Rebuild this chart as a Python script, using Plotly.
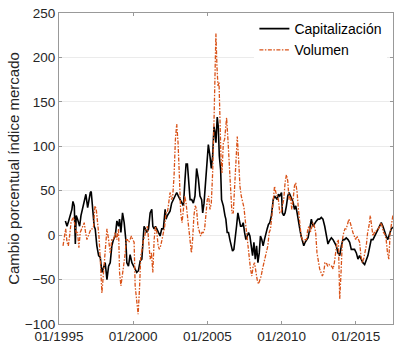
import plotly.graph_objects as go

# Años transcurridos desde 01/1995 (eje temporal) y valores (%)
cap_t = [0.43, 0.54, 0.65, 0.76, 0.87, 0.94, 1.03, 1.10, 1.16, 1.25, 1.39, 1.48, 1.61, 1.72, 1.81, 1.93,
         2.02, 2.11, 2.17, 2.28, 2.37, 2.44, 2.55, 2.67, 2.78, 2.89, 3.00, 3.11, 3.23, 3.34, 3.45, 3.56,
         3.67, 3.79, 3.90, 4.01, 4.08, 4.17, 4.28, 4.39, 4.50, 4.57, 4.68, 4.79, 4.91, 5.02, 5.13, 5.24,
         5.35, 5.47, 5.58, 5.64, 5.73, 5.82, 5.91, 6.03, 6.14, 6.25, 6.32, 6.41, 6.50, 6.59, 6.70, 6.81,
         6.92, 7.03, 7.15, 7.21, 7.30, 7.39, 7.48, 7.59, 7.71, 7.82, 7.93, 8.04, 8.15, 8.27, 8.38, 8.49,
         8.56, 8.65, 8.74, 8.83, 8.94, 9.05, 9.16, 9.27, 9.39, 9.50, 9.61, 9.68, 9.77, 9.83, 9.95, 10.06,
         10.17, 10.26, 10.35, 10.44, 10.51, 10.57, 10.66, 10.73, 10.80, 10.89, 10.95, 11.07, 11.18, 11.24,
         11.33, 11.42, 11.51, 11.60, 11.69, 11.78, 11.87, 11.96, 12.05, 12.14, 12.23, 12.32, 12.41, 12.50,
         12.59, 12.68, 12.77, 12.86, 12.95, 13.04, 13.13, 13.22, 13.31, 13.40, 13.49, 13.57, 13.66, 13.75,
         13.84, 13.93, 14.02, 14.11, 14.20, 14.31, 14.43, 14.52, 14.61, 14.70, 14.78, 14.87, 14.99, 15.05,
         15.14, 15.23, 15.32, 15.41, 15.50, 15.59, 15.68, 15.77, 15.86, 15.95, 16.04, 16.13, 16.22, 16.31,
         16.40, 16.49, 16.58, 16.67, 16.78, 16.89, 17.00, 17.11, 17.23, 17.34, 17.45, 17.56, 17.67, 17.78,
         17.90, 18.01, 18.12, 18.23, 18.35, 18.46, 18.57, 18.68, 18.79, 18.91, 19.02, 19.13, 19.24, 19.35,
         19.47, 19.58, 19.69, 19.80, 19.91, 20.03, 20.14, 20.25, 20.36, 20.47, 20.59, 20.70, 20.81, 20.92,
         21.03, 21.15, 21.26, 21.37, 21.48, 21.59, 21.71, 21.82, 21.93, 22.04, 22.15, 22.27, 22.38, 22.49]
capitalizacion = [16, 10, 16, 22, 29, 38, 33, -10, 22, 18, 10, 22, 33, 40, 46, 31,
                  40, 48, 49, 25, 10, 7, -12, -23, -25, -42, -35, -31, -50, -35, -31, -12,
                  -5, -1, 16, 10, 18, 3, 25, 14, -5, -31, -35, -22, -31, -35, -40, -42,
                  -40, -29, -27, -5, 10, 7, 3, 7, 25, 29, 10, 7, 10, 7, 3, -1,
                  7, 7, 29, 18, 22, 25, 27, 36, 40, 44, 48, 44, 40, 36, 33, 63,
                  80, 80, 55, 40, 40, 36, 44, 75, 63, 44, 40, 25, 36, 48, 70, 102,
                  89, 75, 89, 122, 115, 104, 133, 122, 89, 73, 40, 33, 22, 18,
                  3, 3, -5, -14, -18, -16, -5, 10, 25, 18, 10, 10, 14, 3,
                  -5, -1, 3, -1, -12, -23, -8, -27, -12, -31, -20, -1, -5, -12,
                  -5, 3, 7, 12, 14, 22, 40, 44, 42, 40, 46, 44, 48, 25,
                  22, 25, 33, 44, 48, 44, 40, 37, 29, 33, 25, 18, 7, -1,
                  -8, -12, -8, -5, -3, 7, 18, 10, 14, 16, 18, 18, 20, 18,
                  10, -1, -10, -6, -3, -5, -8, -12, -20, -23, -12, -5, -5, -3,
                  -5, -8, -16, -16, -16, -20, -27, -23, -27, -31, -33, -27, -23, -14,
                  -5, -5, -1, 3, 7, 10, 14, 10, 3, -1, -5, 1, 7, 9]

vol_t = [0.27, 0.36, 0.45, 0.54, 0.63, 0.72, 0.81, 0.90, 0.99, 1.08, 1.16, 1.25, 1.34, 1.43, 1.52, 1.61,
         1.70, 1.79, 1.88, 1.97, 2.06, 2.15, 2.24, 2.33, 2.42, 2.51, 2.60, 2.69, 2.78, 2.89, 3.00, 3.11,
         3.23, 3.34, 3.45, 3.56, 3.67, 3.79, 3.90, 4.01, 4.08, 4.17, 4.26, 4.35, 4.46, 4.53, 4.61, 4.70,
         4.79, 4.88, 4.97, 5.06, 5.13, 5.24, 5.33, 5.42, 5.51, 5.60, 5.69, 5.78, 5.87, 5.96, 6.05, 6.14,
         6.23, 6.32, 6.41, 6.50, 6.59, 6.68, 6.76, 6.85, 6.94, 7.03, 7.12, 7.21, 7.30, 7.39, 7.48, 7.59,
         7.66, 7.75, 7.84, 7.93, 8.02, 8.11, 8.20, 8.29, 8.38, 8.47, 8.56, 8.65, 8.74, 8.83, 8.92, 9.00,
         9.09, 9.18, 9.27, 9.36, 9.45, 9.54, 9.63, 9.72, 9.81, 9.90, 9.99, 10.08, 10.17, 10.26, 10.35, 10.44,
         10.51, 10.57, 10.64, 10.71, 10.78, 10.84, 10.91, 10.98, 11.07, 11.16, 11.24, 11.29, 11.38, 11.47,
         11.56, 11.65, 11.74, 11.83, 11.92, 12.01, 12.10, 12.19, 12.28, 12.37, 12.46, 12.54, 12.63, 12.72,
         12.81, 12.90, 12.99, 13.08, 13.17, 13.26, 13.35, 13.44, 13.53, 13.62, 13.71, 13.80, 13.89, 13.98,
         14.07, 14.16, 14.25, 14.34, 14.43, 14.52, 14.61, 14.70, 14.78, 14.87, 14.96, 15.05, 15.14, 15.23,
         15.32, 15.41, 15.50, 15.59, 15.68, 15.77, 15.86, 15.95, 16.04, 16.13, 16.22, 16.31, 16.40, 16.49,
         16.58, 16.67, 16.76, 16.84, 16.93, 17.02, 17.11, 17.20, 17.29, 17.38, 17.47, 17.56, 17.65, 17.74,
         17.83, 17.92, 18.01, 18.10, 18.19, 18.28, 18.37, 18.46, 18.55, 18.64, 18.73, 18.82, 18.91, 19.00,
         19.09, 19.18, 19.26, 19.35, 19.44, 19.53, 19.62, 19.71, 19.80, 19.89, 19.98, 20.07, 20.16, 20.25,
         20.34, 20.43, 20.52, 20.61, 20.70, 20.79, 20.88, 20.97, 21.06, 21.15, 21.24, 21.33, 21.42, 21.51,
         21.60, 21.68, 21.77, 21.86, 21.95, 22.04, 22.13, 22.22, 22.31, 22.40, 22.49]
volumen = [-12, 0, 7, -8, -12, 0, 14, 18, 20, 10, 3, 3, -14, 3, 7, 10,
           14, 3, -5, -1, 3, 7, 7, 10, 33, 29, 14, -1, -27, -65, -42, -12,
           7, -5, -20, -5, -5, 3, -5, 7, -42, -57, -42, -35, -20, -5, -5, -8,
           -5, -1, -5, -8, -57, -80, -89, -61, -23, -16, -5, -1, 7, 10, -8, -27,
           -20, -42, -5, 10, 3, -12, -16, -12, -5, 3, 10, 25, 25, 36, 48, 40,
           44, 66, 107, 125, 104, 66, 25, 14, 29, 44, 36, 22, 3, -12, -20, -5,
           22, 33, 29, 10, 3, -1, 3, 3, 7, 25, 40, 44, 29, 36, 70, 127,
           175, 227, 190, 168, 172, 123, 89, 70, 104, 108, 122, 132, 108, 78,
           44, 25, 25, 55, 78, 111, 85, 55, 44, 37, 31, 18, 3, -12,
           -27, -38, -46, -35, -31, -42, -50, -55, -50, -46, -38, -31, -27, -20,
           -12, 3, 7, 22, 36, 55, 48, 44, 40, 25, 25, 33, 40, 59,
           68, 61, 40, 44, 29, 40, 55, 59, 48, 29, 10, -1, -5, -8,
           -5, -5, 7, 10, 3, 10, 14, 10, 3, -20, -31, -38, -42, -46,
           -42, -31, -31, -35, -33, -35, -35, -38, -31, -20, -8, -5, -72, -42,
           -5, 3, 7, 7, 14, 18, 14, 7, 3, -1, -5, -1, -5, -8,
           -23, -31, -27, -20, -12, 3, 10, 22, 7, -1, 3, 3, 7, 7,
           10, 14, 10, 3, 1, -5, -20, -27, 3, 14, 22]

anio_inicio = 1995
ticks_anio = [1995, 2000, 2005, 2010, 2015]
ticks_texto = ["01/1995", "01/2000", "01/2005", "01/2010", "01/2015"]
ticks_y = [-100, -50, 0, 50, 100, 150, 200, 250]

fig = go.Figure()
fig.add_trace(go.Scatter(
    x=[anio_inicio + t for t in cap_t], y=capitalizacion, mode="lines",
    name="Capitalización", line=dict(color="#000000", width=1.6)))
fig.add_trace(go.Scatter(
    x=[anio_inicio + t for t in vol_t], y=volumen, mode="lines",
    name="Volumen", line=dict(color="#D95319", width=1.3, dash="4px,1.5px,1.5px,1.5px")))

fuente = "Liberation Sans, Arial, sans-serif"
fig.update_layout(
    width=401, height=347,
    margin=dict(l=59, r=8, t=13, b=23, autoexpand=False),
    paper_bgcolor="white", plot_bgcolor="white",
    font=dict(family=fuente, size=13.5, color="#262626"),
    showlegend=True,
    legend=dict(x=0.585, y=1.0, xanchor="left", yanchor="top",
                bgcolor="white", borderwidth=0,
                font=dict(size=14, color="#000000"),
                itemwidth=30, tracegroupgap=0),
)
fig.update_xaxes(
    range=[1995, 2017.5], tickvals=ticks_anio, ticktext=ticks_texto,
    showgrid=False, zeroline=False, showline=True, linecolor="#999999", linewidth=1,
    mirror="ticks", ticks="inside", ticklen=3, tickcolor="#999999", automargin=False)
fig.update_yaxes(
    range=[-100, 250], tickvals=ticks_y,
    showgrid=True, gridcolor="#ebebeb", gridwidth=1, zeroline=False,
    showline=True, linecolor="#999999", linewidth=1,
    mirror="ticks", ticks="inside", ticklen=3, tickcolor="#999999", automargin=False,
    title=dict(text="Cambio porcentual índice mercado", font=dict(size=15), standoff=1))

fig.write_html("out.html", config={"displayModeBar": False},
               post_script="document.body.style.margin='0';")
